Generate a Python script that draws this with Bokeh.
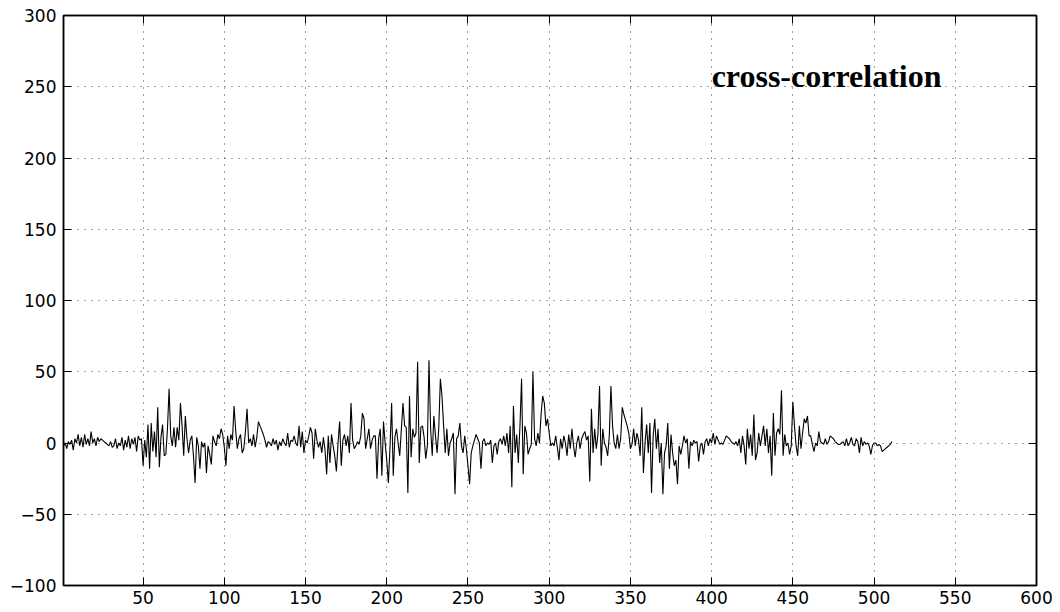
from bokeh.plotting import figure
from bokeh.models import Range1d, LinearAxis, FixedTicker, Label, ColumnDataSource
from bokeh.embed import file_html
from bokeh.resources import INLINE

# ---- data ----
corr_lag_001_049 = [-2, 0, -4, 1, -1, 2, -5, 3, 0, 6,
                    -2, 4, -3, 6, -1, 3, -2, 8, 0, 3,
                    -2, 4, 1, 3, 2, 1, 0, -1, -2, 1,
                    -3, -2, 3, -4, 0, -2, 4, -5, 2, -3,
                    5, -4, 3, -1, 4, -6, 5, 2, 3]
corr_lag_050_128 = [-16, 2, -10, 13, -18, 14, -6, 8, -10, 25,
                    -17, 4, 13, -9, -8, 10, 38, 5, -2, 11,
                    -3, 11, 2, 28, 12, -9, 19, 3, -7, 2,
                    5, -9, -28, 4, -2, -18, 1, -3, 0, -21,
                    -2, -8, -15, 5, 1, -2, 6, 3, 10, 6,
                    -3, -16, 5, -4, 6, 2, 26, 9, -4, 3,
                    6, -7, -4, 8, 24, 0, 3, -2, 6, -3,
                    4, 15, 12, 9, 6, 2, -3, 1, 0]
corr_lag_129_192 = [-2, 3, -1, 2, -5, 1, -2, 3, 0, -2,
                    7, -3, 2, 1, 5, 0, -2, 12, -3, 8,
                    -7, 2, 0, 5, 11, 7, -11, 10, 2, -3,
                    1, -7, 4, -5, -22, 5, -14, 6, -2, -9,
                    -20, 0, 15, -16, 2, 6, -2, 5, -7, 28,
                    2, -4, -2, 1, -1, 5, 21, 17, -4, 3,
                    10, -4, 2, 5]
corr_lag_193_256 = [5, -25, 3, 10, -23, 15, 0, -12, -28, -3,
                    28, -23, 4, 10, 0, -9, 10, 28, 12, 11,
                    -35, 33, -10, 10, 4, 7, 57, -14, 11, 12,
                    4, -11, -2, 58, 10, -9, 19, 5, -7, 10,
                    45, 33, 12, -7, 10, -9, 0, 3, 7, -36,
                    3, 5, 14, -2, -7, 5, -4, -16, -29, -7,
                    -2, 2, 6, 3]
corr_lag_257_320 = [0, -18, 1, 3, -2, 0, -1, 2, -14, -2,
                    0, -8, 1, 3, -1, 5, -2, 7, -7, 12,
                    -31, 26, -7, 6, -14, 12, 45, -22, 12, 7,
                    -8, -4, -1, 50, 3, -2, 7, 0, 20, 33,
                    28, 12, 17, 7, -2, 0, -2, 5, -3, -12,
                    3, -4, 5, 0, -9, 6, -4, 10, -2, -10,
                    0, 5, -4, 3]
corr_lag_321_384 = [6, 8, 2, 5, -27, 24, -7, 10, -4, 6,
                    40, -16, 10, 0, -3, -9, 5, 40, 12, 0,
                    -4, 6, -4, 3, 25, 20, 16, 12, 7, -4,
                    -1, 10, -2, 7, 2, -9, 25, -21, 0, 13,
                    -7, 14, -35, 5, 17, -4, 10, -14, 0, -36,
                    -7, -2, 14, -18, 6, -7, -16, -12, -29, -2,
                    -8, -2, 5, 0]
corr_lag_385_448 = [3, -18, 1, -2, 2, 0, 1, -13, -2, 0,
                    -8, 1, 3, -2, 3, 0, 7, -1, 5, 2,
                    -1, 0, -1, 2, 5, 4, 3, 1, 0, -1,
                    1, -2, 3, -7, 5, -2, -15, 10, -4, 6,
                    -9, 20, -12, -7, 7, -2, 5, 12, -2, 10,
                    -7, 5, -23, 21, -9, 7, 10, 6, 37, -9,
                    6, -2, 0, -8]
corr_lag_449_511 = [-2, 29, 12, -2, -9, 12, -4, 7, 17, 14,
                    19, 5, 5, -1, -6, 0, -2, 8, 1, 0,
                    -1, 3, -1, 1, 5, 4, 3, 1, 0, -1,
                    -1, 0, 1, -2, 3, -2, 0, 4, -1, -2,
                    3, 1, -7, 4, -2, 1, -1, 0, -2, -8,
                    -2, 0, 0, -2, -1, -2, -6, -5, -4, -3,
                    -2, -1, 1]

x_tick_values = [50, 100, 150, 200, 250, 300, 350, 400, 450, 500, 550, 600]
y_tick_values = [-100, -50, 0, 50, 100, 150, 200, 250, 300]
y_tick_labels = ["\u2212100", "\u221250", "0", "50", "100", "150", "200", "250", "300"]
annotation_text = "cross-correlation"

corr_values = (corr_lag_001_049 + corr_lag_050_128 + corr_lag_129_192 +
               corr_lag_193_256 + corr_lag_257_320 + corr_lag_321_384 +
               corr_lag_385_448 + corr_lag_449_511)
lags = list(range(1, len(corr_values) + 1))

source = ColumnDataSource(data=dict(lag=lags, corr=corr_values))

p = figure(width=1060, height=612,
           x_range=Range1d(1, 600), y_range=Range1d(-100, 300),
           output_backend="svg", toolbar_location=None,
           min_border_left=63, min_border_right=24,
           min_border_top=15, min_border_bottom=27,
           background_fill_color="white", border_fill_color="white")

p.outline_line_color = "black"
p.outline_line_width = 1.5

TICK_FONT = "DejaVu Sans"
TICK_SIZE = "17px"

for ax in p.xaxis:
    ax.ticker = FixedTicker(ticks=x_tick_values)
for ax in p.yaxis:
    ax.ticker = FixedTicker(ticks=y_tick_values)
    ax.major_label_overrides = dict(zip(y_tick_values, y_tick_labels))

for ax in list(p.xaxis) + list(p.yaxis):
    ax.major_tick_in = 8
    ax.major_tick_out = 0
    ax.minor_tick_line_color = None
    ax.axis_line_width = 1.5
    ax.axis_line_color = "black"
    ax.major_tick_line_color = "black"
    ax.major_tick_line_width = 1
    ax.major_label_text_font = TICK_FONT
    ax.major_label_text_font_size = TICK_SIZE
    ax.major_label_text_color = "black"
p.xaxis.major_label_standoff = 5
p.yaxis.major_label_standoff = 7

# tick-only axes on the top and right (box with inward ticks, no labels)
top_axis = LinearAxis(ticker=FixedTicker(ticks=x_tick_values),
                      major_tick_in=8, major_tick_out=0,
                      minor_tick_line_color=None,
                      major_label_text_font_size="8px",
                      major_label_text_color=None,
                      major_label_standoff=0,
                      axis_line_width=1.5, axis_line_color="black")
right_axis = LinearAxis(ticker=FixedTicker(ticks=y_tick_values),
                        major_tick_in=8, major_tick_out=0,
                        minor_tick_line_color=None,
                        major_label_text_font_size="8px",
                        major_label_text_color=None,
                        major_label_standoff=0,
                        axis_line_width=1.5, axis_line_color="black")
p.add_layout(top_axis, "above")
p.add_layout(right_axis, "right")

for g in (p.xgrid, p.ygrid):
    g.grid_line_color = "black"
    g.grid_line_alpha = 0.75
    g.grid_line_dash = "1 6"
    g.grid_line_width = 1

p.line("lag", "corr", source=source, line_color="black", line_width=1.1)

label = Label(x=400, y=257.5, text=annotation_text,
              text_font="Liberation Serif", text_font_style="bold",
              text_font_size="32px", text_color="black",
              text_align="left", text_baseline="alphabetic")
p.add_layout(label)

open("out.html", "w").write(file_html(p, INLINE))
